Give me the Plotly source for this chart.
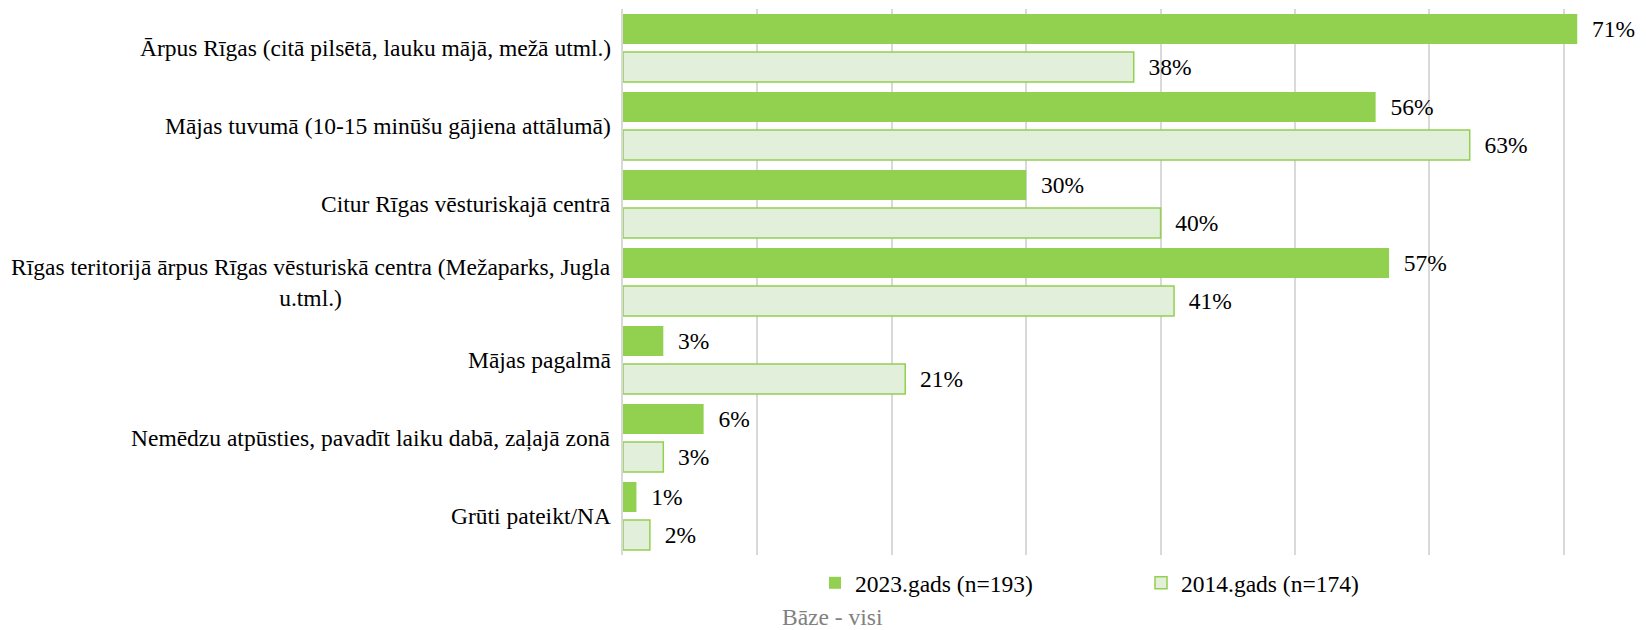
import plotly.graph_objects as go

categories = [
    "Ārpus Rīgas (citā pilsētā, lauku mājā, mežā utml.)",
    "Mājas tuvumā (10-15 minūšu gājiena attālumā)",
    "Citur Rīgas vēsturiskajā centrā",
    "Rīgas teritorijā ārpus Rīgas vēsturiskā centra (Mežaparks, Jugla<br>u.tml.)",
    "Mājas pagalmā",
    "Nemēdzu atpūsties, pavadīt laiku dabā, zaļajā zonā",
    "Grūti pateikt/NA",
]
values_2023 = [71, 56, 30, 57, 3, 6, 1]
values_2014 = [38, 63, 40, 41, 21, 3, 2]
series_names = ["2023.gads (n=193)", "2014.gads (n=174)"]
footnote = "Bāze - visi"

FONT = "Liberation Serif"
FS = 23.5
GREEN = "#92D050"
LIGHT = "#E2EFDA"
PAD = "\u00a0\u00a0"

W, H = 1646, 630
ML, MR, MT, MB = 623, 0, 9, 75
PW = W - ML - MR
PH = H - MT - MB
px_per_unit = 13.44
xmax = PW / px_per_unit

fig = go.Figure()
fig.add_trace(go.Bar(
    y=categories, x=values_2023, orientation="h", name=series_names[0],
    marker=dict(color=GREEN, line=dict(width=0)),
    offset=-0.436, width=0.385,
    text=[PAD + f"{v}%" for v in values_2023], textposition="outside",
    textfont=dict(family=FONT, size=FS, color="black"),
    cliponaxis=False, hoverinfo="skip",
))
fig.add_trace(go.Bar(
    y=categories, x=values_2014, orientation="h", name=series_names[1],
    marker=dict(color=LIGHT, line=dict(color=GREEN, width=1.5)),
    offset=0.051, width=0.385,
    text=[PAD + f"{v}%" for v in values_2014], textposition="outside",
    textfont=dict(family=FONT, size=FS, color="black"),
    cliponaxis=False, hoverinfo="skip",
))

annotations = []
for c in categories:
    annotations.append(dict(
        x=0, xref="paper", y=c, yref="y", text=c, showarrow=False,
        xanchor="right", yanchor="middle", align="center", xshift=-10,
        font=dict(family=FONT, size=FS, color="black"),
    ))
annotations.append(dict(
    x=(780 - ML) / PW, xref="paper", y=(MT + PH - 617) / PH,
    yref="paper", text=footnote, showarrow=False, xanchor="left", yanchor="middle",
    font=dict(family=FONT, size=FS, color="#808080"),
))

fig.update_layout(
    width=W, height=H,
    margin=dict(l=ML, r=MR, t=MT, b=MB, autoexpand=False),
    paper_bgcolor="white", plot_bgcolor="white",
    barmode="overlay",
    font=dict(family=FONT, color="black"),
    xaxis=dict(range=[0, xmax], dtick=10, tick0=0, showticklabels=False,
               showgrid=True, gridcolor="#d9d9d9", gridwidth=1.5, zeroline=False,
               fixedrange=True),
    yaxis=dict(type="category", autorange="reversed", showticklabels=False,
               showline=True, linecolor="#d9d9d9", linewidth=1.5, showgrid=False,
               fixedrange=True),
    legend=dict(orientation="h", x=(815 - ML) / PW, xanchor="left",
                y=(MT + PH - 583) / PH, yanchor="middle",
                font=dict(family=FONT, size=FS, color="black"),
                entrywidth=281, entrywidthmode="pixels", traceorder="normal"),
    annotations=annotations,
    showlegend=True,
)

fig.write_html("out.html", config={"displayModeBar": False},
               post_script="document.body.style.margin='0';document.body.style.overflow='hidden';")
